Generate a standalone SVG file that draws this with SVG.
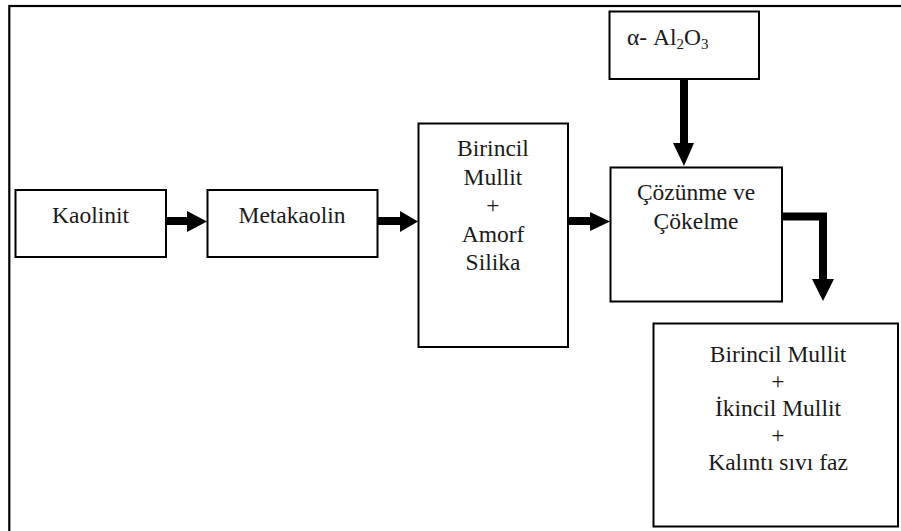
<svg xmlns="http://www.w3.org/2000/svg" width="901" height="531" viewBox="0 0 901 531">
<style>
.box{fill:#fff;stroke:#000;stroke-width:2}
.t{font-family:'Liberation Serif','Times New Roman',serif;font-size:23.5px;fill:#1a1a1a;text-anchor:middle}
.arr{fill:#000;stroke:none}
</style>
<rect x="0" y="0" width="901" height="531" fill="#fff"/>
<rect id="frame" x="9.3" y="6" width="900" height="540" fill="none" stroke="#000" stroke-width="2.2"/>
<g id="kaolinit">
<rect class="box" x="15.5" y="190" width="150.5" height="67"/>
<text class="t" x="90.5" y="223">Kaolinit</text>
</g>
<g id="metakaolin">
<rect class="box" x="207.5" y="190" width="170" height="67"/>
<text class="t" x="292" y="223">Metakaolin</text>
</g>
<g id="birincil">
<rect class="box" x="418.5" y="123.5" width="149.5" height="223.5"/>
<text class="t" x="493" y="156">Birincil</text>
<text class="t" x="493" y="184.5">Mullit</text>
<text class="t" x="493" y="213">+</text>
<text class="t" x="493" y="241.5">Amorf</text>
<text class="t" x="493" y="270">Silika</text>
</g>
<g id="alumina">
<rect class="box" x="609.5" y="11.5" width="149.5" height="67.5"/>
<text class="t" x="627" y="45" style="text-anchor:start">α- Al<tspan font-size="15" dy="4">2</tspan><tspan dy="-4">O</tspan><tspan font-size="15" dy="4">3</tspan></text>
</g>
<g id="cozunme">
<rect class="box" x="610.5" y="167.5" width="171.5" height="134"/>
<text class="t" x="696" y="200">Çözünme ve</text>
<text class="t" x="696" y="229">Çökelme</text>
</g>
<g id="final">
<rect class="box" x="653.5" y="323.5" width="244.5" height="203"/>
<text class="t" x="778" y="362">Birincil Mullit</text>
<text class="t" x="778" y="389">+</text>
<text class="t" x="778" y="416">İkincil Mullit</text>
<text class="t" x="778" y="443">+</text>
<text class="t" x="778" y="470">Kalıntı sıvı faz</text>
</g>
<g id="connectors">
<polygon class="arr" points="166,217 187,217 187,211 207,221.5 187,232 187,225 166,225"/>
<polygon class="arr" points="378,217 400,217 400,211 418,221.5 400,232 400,225 378,225"/>
<polygon class="arr" points="568,217 590,217 590,212 610,221.5 590,231 590,225 568,225"/>
<polygon class="arr" points="680,79 688,79 688,143 694,143 684,166 673,143 680,143"/>
<polygon class="arr" points="782,212.5 827,212.5 827,279 834,279 823,301 812,279 819,279 819,220.5 782,220.5"/>
</g>
</svg>
